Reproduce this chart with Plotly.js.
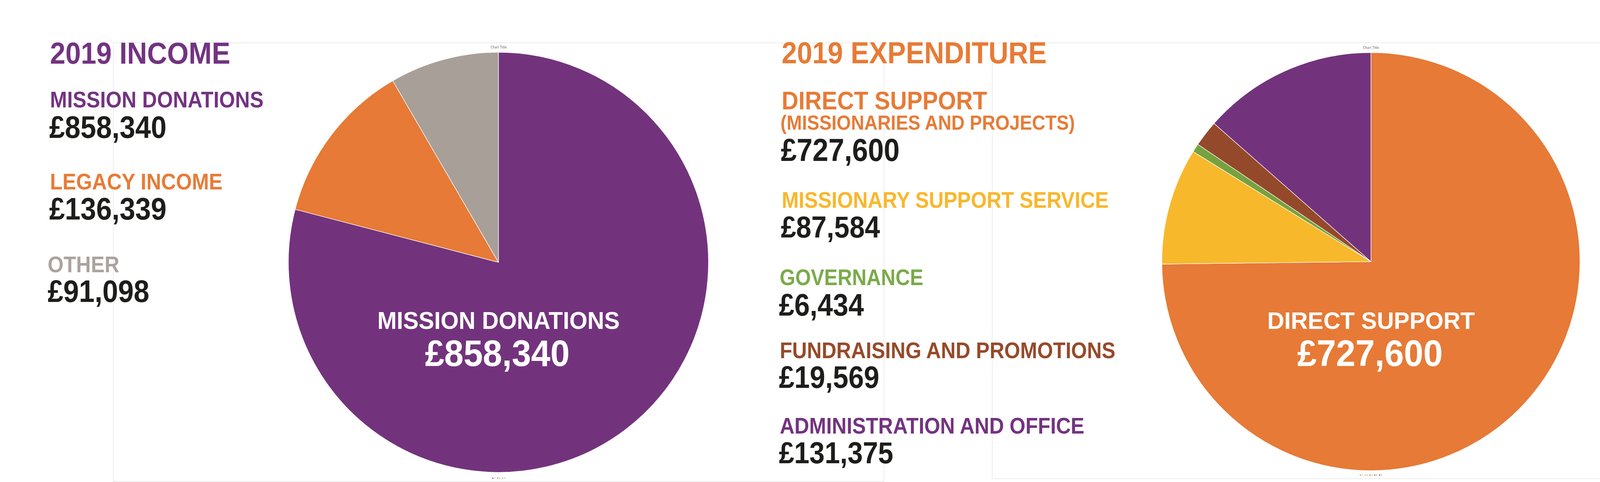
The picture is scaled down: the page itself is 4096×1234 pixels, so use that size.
<!DOCTYPE html>
<html>
<head>
<meta charset="utf-8">
<script src="https://cdn.plot.ly/plotly-3.0.1.min.js"></script>
<style>
  html, body { margin: 0; padding: 0; background: #ffffff; overflow: hidden; }
  #chart { width: 4096px; height: 1234px; }
</style>
</head>
<body>
<div id="chart"></div>
<script>
// ---------------- DATA ----------------
const incomeTitle = '2019 INCOME';
const incomeCategories = ['MISSION DONATIONS', 'LEGACY INCOME', 'OTHER'];
const incomeValues = [858340, 136339, 91098];
const incomeLegendLabels = ['1', '2', '3'];

const expenditureTitle = '2019 EXPENDITURE';
const expenditureCategories = ['DIRECT SUPPORT', 'MISSIONARY SUPPORT SERVICE', 'GOVERNANCE', 'FUNDRAISING AND PROMOTIONS', 'ADMINISTRATION AND OFFICE'];
const expenditureSubtitle = '(MISSIONARIES AND PROJECTS)';
const expenditureValues = [727600, 87584, 6434, 19569, 131375];
const expenditureLegendLabels = ['1', '2', '3', '4', '5'];

const chartTitleText = 'Chart Title';

// ---------------- STYLE ----------------
const W = 4096, H = 1234;
const px = x => x / W;
const py = y => 1 - y / H;
const FONT = 'Liberation Sans, Arial, Helvetica, sans-serif';
const SMALLFONT = 'Open Sans, Noto Sans, sans-serif';
const NUMCOLOR = '#1d1d1b';

const incomeSliceColors = ['#72337C', '#E67A36', '#A89F98'];
const incomeTextColors = ['#733381', '#E77B37', '#ABA39E'];
const expenditureSliceColors = ['#E67A36', '#F8B82B', '#75A23E', '#944A2A', '#72337C'];
const expenditureTextColors = ['#E77B37', '#F9B72B', '#7BAA4A', '#964A2A', '#733381'];

// text positions (cap-centre y, left x) in window pixels
const incomeLabelX = [128, 128, 122];
const incomeLabelY = [255.2, 465.2, 676.5];
const incomeValueX = [126, 126, 122];
const incomeValueY = [325.5, 534.6, 745.6];
const expLabelX = [2001, 2001, 1996, 1996, 1996];
const expLabelY = [257.7, 511.4, 709.9, 896.1, 1089.7];
const expLabelSize = [64, 58, 57, 58, 58];
const expLabelSqueeze = [0.93, 0.9, 0.9, 0.9, 0.9];
const expValueX = [1999, 1999, 1994, 1994, 1994];
const expValueY = [383.5, 581.1, 780.3, 965.5, 1158.5];
const expValueSize = [81, 78, 79, 79, 78];

const pieIncome = { cx: 1276, cy: 671.5, r: 537.7 };
const pieExp = { cx: 3509.5, cy: 669.7, r: 535.2 };

function domainFor(p) {
  return {
    x: [px(p.cx - p.r), px(p.cx + p.r)],
    y: [py(p.cy + p.r), py(p.cy - p.r)]
  };
}

function money(v) {
  return '£' + String(v).replace(/\B(?=(\d{3})+(?!\d))/g, ',');
}

// ---------------- TRACES ----------------
const data = [
  {
    type: 'pie',
    labels: incomeLegendLabels,
    values: incomeValues,
    sort: false,
    direction: 'clockwise',
    rotation: 0,
    textinfo: 'none',
    hoverinfo: 'skip',
    showlegend: false,
    marker: { colors: incomeSliceColors, line: { color: '#ffffff', width: 1.3 } },
    domain: domainFor(pieIncome)
  },
  {
    type: 'pie',
    labels: expenditureLegendLabels,
    values: expenditureValues,
    sort: false,
    direction: 'clockwise',
    rotation: 0,
    textinfo: 'none',
    hoverinfo: 'skip',
    showlegend: false,
    marker: { colors: expenditureSliceColors, line: { color: '#ffffff', width: 1.3 } },
    domain: domainFor(pieExp)
  }
];

// ---------------- ANNOTATIONS ----------------
const annotations = [];
const squeeze = [];
const anchorKind = [];

function addText(text, x, y, size, color, xanchor, k, family, weight) {
  annotations.push({
    xref: 'paper', yref: 'paper',
    x: px(x), y: py(y),
    xanchor: xanchor, yanchor: 'middle',
    text: text, showarrow: false,
    borderpad: 0, borderwidth: 0,
    font: { family: family || FONT, size: size, color: color, weight: weight || 700 }
  });
  squeeze.push(k);
  anchorKind.push(xanchor);
}

// Income block
addText(incomeTitle, 128, 135.7, 78, incomeTextColors[0], 'left', 0.91);
incomeCategories.forEach((c, i) => {
  addText(c, incomeLabelX[i], incomeLabelY[i], 57, incomeTextColors[i], 'left', 0.92);
  addText(money(incomeValues[i]), incomeValueX[i], incomeValueY[i], 80, NUMCOLOR, 'left', 0.9);
});

// Expenditure block
addText(expenditureTitle, 2001, 135.4, 78, expenditureTextColors[0], 'left', 0.905);
expenditureCategories.forEach((c, i) => {
  addText(c, expLabelX[i], expLabelY[i], expLabelSize[i], expenditureTextColors[i], 'left', expLabelSqueeze[i]);
  if (i === 0) {
    addText(expenditureSubtitle, 1998, 314.1, 52, expenditureTextColors[0], 'left', 0.905);
  }
  addText(money(expenditureValues[i]), expValueX[i], expValueY[i], expValueSize[i], NUMCOLOR, 'left', 0.9);
});

// Labels inside the pies (largest slice)
addText(incomeCategories[0], pieIncome.cx, 820.2, 62, '#ffffff', 'center', 0.96);
addText(money(incomeValues[0]), pieIncome.cx - 3, 903.5, 95, '#ffffff', 'center', 0.935);
addText(expenditureCategories[0], pieExp.cx, 820.2, 62, '#ffffff', 'center', 0.97);
addText(money(expenditureValues[0]), pieExp.cx - 3, 903.5, 95, '#ffffff', 'center', 0.94);

// Small "Chart Title" placeholders
addText(chartTitleText, pieIncome.cx, 120.2, 8.5, '#595959', 'center', 1, SMALLFONT, 400);
addText(chartTitleText, pieExp.cx, 121.4, 8.5, '#595959', 'center', 1, SMALLFONT, 400);

// Tiny legends
function legendText(labels, colors) {
  return labels.map((l, i) => '<span style="color:' + colors[i] + '">■</span>\u00A0' + l).join('\u00A0\u00A0\u00A0');
}
addText(legendText(incomeLegendLabels, incomeSliceColors), pieIncome.cx, 1224.1, 5.5, '#595959', 'center', 1, SMALLFONT, 400);
addText(legendText(expenditureLegendLabels, expenditureSliceColors), pieExp.cx, 1216, 5.5, '#595959', 'center', 1, SMALLFONT, 400);

// ---------------- FRAMES ----------------
const shapes = [
  { type: 'rect', xref: 'paper', yref: 'paper', layer: 'below',
    x0: px(290), x1: px(2263), y0: py(1232.5), y1: py(109.6),
    line: { color: '#dcdcdc', width: 1 }, fillcolor: 'rgba(0,0,0,0)' },
  { type: 'rect', xref: 'paper', yref: 'paper', layer: 'below',
    x0: px(2540), x1: px(4300), y0: py(1225.3), y1: py(109.6),
    line: { color: '#dcdcdc', width: 1 }, fillcolor: 'rgba(0,0,0,0)' }
];

const layout = {
  width: W, height: H,
  margin: { l: 0, r: 0, t: 0, b: 0, pad: 0 },
  paper_bgcolor: '#ffffff',
  plot_bgcolor: '#ffffff',
  showlegend: false,
  annotations: annotations,
  shapes: shapes
};

Plotly.newPlot('chart', data, layout, { staticPlot: true, displayModeBar: false }).then(gd => {
  gd.querySelectorAll('g.annotation').forEach(g => {
    const idx = parseInt(g.getAttribute('data-index'), 10);
    const k = squeeze[idx];
    if (!k || k === 1) return;
    const t = g.querySelector('text.annotation-text');
    if (!t) return;
    const bb = t.getBBox();
    const ox = anchorKind[idx] === 'left' ? bb.x : bb.x + bb.width / 2;
    t.setAttribute('transform', 'translate(' + (ox * (1 - k)) + ',0) scale(' + k + ',1)');
  });
});
</script>
</body>
</html>
